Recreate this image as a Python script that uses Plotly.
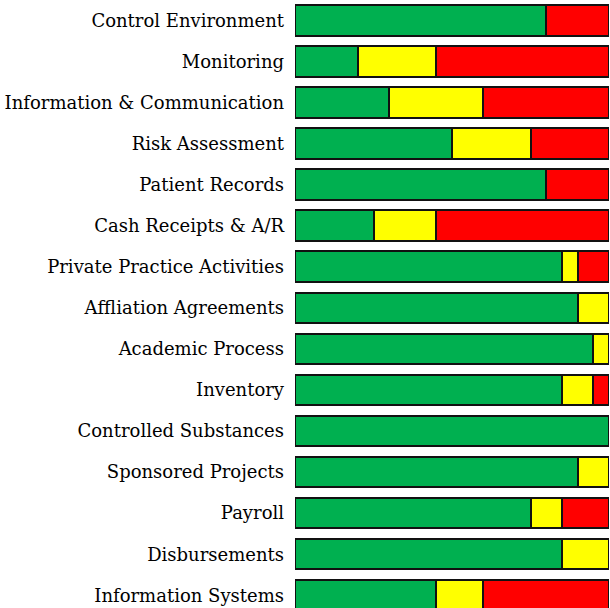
import plotly.graph_objects as go

categories = ["Control Environment", "Monitoring", "Information & Communication",
              "Risk Assessment", "Patient Records", "Cash Receipts & A/R",
              "Private Practice Activities", "Affliation Agreements", "Academic Process",
              "Inventory", "Controlled Substances", "Sponsored Projects", "Payroll",
              "Disbursements", "Information Systems"]
green = [0.80, 0.20, 0.30, 0.50, 0.80, 0.25, 0.85, 0.90, 0.95, 0.85, 1.00, 0.90, 0.75, 0.85, 0.45]
yellow = [0.00, 0.25, 0.30, 0.25, 0.00, 0.20, 0.05, 0.10, 0.05, 0.10, 0.00, 0.10, 0.10, 0.15, 0.15]
red = [0.20, 0.55, 0.40, 0.25, 0.20, 0.55, 0.10, 0.00, 0.00, 0.05, 0.00, 0.00, 0.15, 0.00, 0.40]

fig = go.Figure()
for vals, col in [(green, "#00B050"), (yellow, "#FFFF00"), (red, "#FF0000")]:
    fig.add_trace(go.Bar(y=categories, x=vals, orientation="h",
                         marker=dict(color=col, line=dict(color="#111111", width=2)),
                         showlegend=False, hoverinfo="skip"))

fig.update_layout(
    barmode="stack", bargap=0.257,
    width=610, height=608,
    margin=dict(l=295, r=1, t=0, b=0),
    plot_bgcolor="white", paper_bgcolor="white",
    font=dict(family="DejaVu Serif", size=18, color="black"),
    xaxis=dict(range=[0, 1], visible=False, fixedrange=True),
    yaxis=dict(type="category", categoryorder="array", categoryarray=categories,
               range=[14.31, -0.494], showgrid=False, zeroline=False, showline=False,
               ticks="", ticklabelstandoff=10, fixedrange=True),
)
fig.write_html("out.html", config={"displayModeBar": False},
               post_script="document.body.style.margin='0px';document.body.style.overflow='hidden';")
